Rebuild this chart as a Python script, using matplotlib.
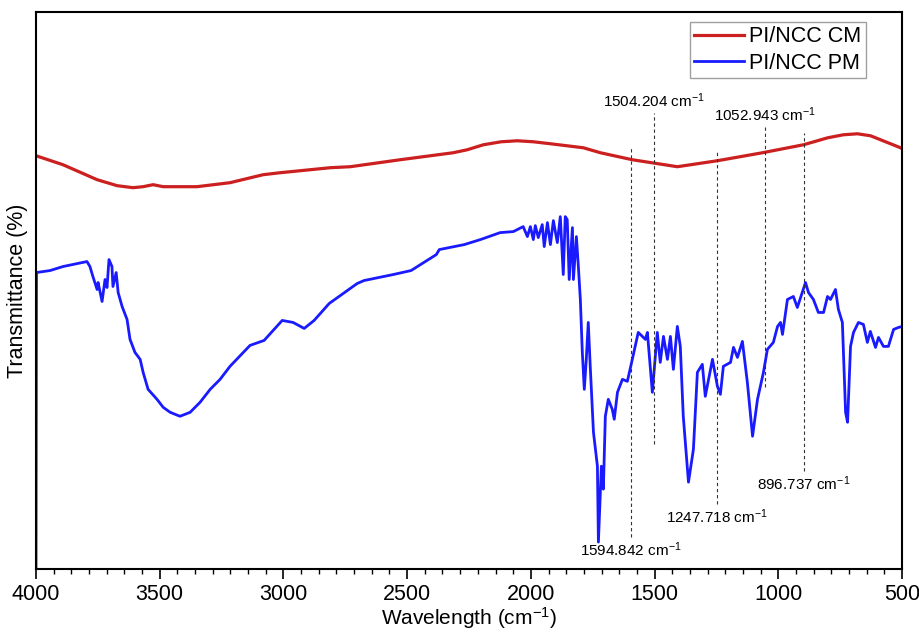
import matplotlib
matplotlib.use("Agg")
import matplotlib.pyplot as plt
from matplotlib.ticker import AutoMinorLocator

plt.rcParams['font.family'] = ['Liberation Sans', 'DejaVu Sans']
plt.rcParams['mathtext.fontset'] = 'custom'
plt.rcParams['mathtext.rm'] = 'Liberation Sans'
plt.rcParams['mathtext.it'] = 'Liberation Sans'

# ---- data (transmittance, arbitrary units) ----
cm_wn = [4000, 3891, 3753, 3672, 3608, 3567, 3527, 3486, 3349, 3216, 3082, 3013,
         2932, 2811, 2730, 2528, 2314, 2257, 2192, 2120, 2055, 1990, 1921, 1788, 1719, 1590,
         1408, 1246, 1064, 898, 800, 737, 680, 627, 506, 500]
cm_T = [41.4, 40.5, 39.0, 38.4, 38.2, 38.3, 38.5, 38.3, 38.3, 38.7, 39.5, 39.7,
        39.9, 40.2, 40.3, 41.0, 41.7, 42.0, 42.5, 42.8, 42.9, 42.8, 42.6, 42.2, 41.7, 41.0,
        40.3, 40.9, 41.7, 42.5, 43.2, 43.5, 43.6, 43.4, 42.2, 42.1]

pm_wn = [4000, 3998, 3943, 3891, 3834, 3794, 3782, 3770, 3753, 3749, 3733, 3721,
         3713, 3705, 3693, 3689, 3676, 3668, 3652, 3632, 3620, 3600, 3579, 3567,
         3547, 3511, 3486, 3458, 3418, 3377, 3337, 3296, 3256, 3216, 3135, 3078,
         3005, 2961, 2916, 2876, 2815, 2702, 2674, 2556, 2484, 2382, 2370, 2269,
         2204, 2124, 2071, 2031, 2014, 2002, 1990, 1982, 1970, 1954, 1946, 1933,
         1921, 1909, 1893, 1881, 1869, 1861, 1853, 1845, 1832, 1828, 1816, 1808,
         1800, 1792, 1784, 1776, 1768, 1760, 1747, 1731, 1727, 1715, 1707, 1699,
         1687, 1671, 1663, 1650, 1630, 1610, 1590, 1566, 1537, 1529, 1509, 1489,
         1477, 1464, 1448, 1436, 1424, 1408, 1396, 1384, 1363, 1343, 1327, 1307,
         1295, 1266, 1246, 1234, 1222, 1193, 1181, 1165, 1145, 1125, 1104, 1084,
         1060, 1044, 1020, 1003, 991, 983, 963, 939, 923, 890, 878, 858,
         838, 817, 801, 789, 769, 757, 741, 728, 720, 708, 696, 676,
         656, 640, 628, 607, 595, 575, 555, 534, 514, 500]
pm_T = [0.0, 29.7, 29.9, 30.3, 30.6, 30.8, 30.3, 29.3, 28.0, 28.7, 26.8, 29.0,
        28.2, 31.0, 30.3, 28.3, 29.7, 27.7, 26.3, 25.0, 23.0, 21.7, 21.0, 19.7,
        18.0, 17.0, 16.2, 15.7, 15.3, 15.7, 16.7, 18.0, 19.0, 20.3, 22.4, 22.9,
        24.9, 24.7, 24.1, 24.9, 26.6, 28.6, 28.9, 29.5, 29.9, 31.5, 32.0, 32.5,
        33.0, 33.7, 33.8, 34.3, 33.3, 34.3, 33.0, 34.4, 33.2, 34.5, 32.3, 34.7,
        32.5, 34.9, 32.7, 35.3, 29.5, 35.3, 35.0, 29.0, 34.2, 29.0, 33.3, 30.3,
        27.0, 21.7, 18.0, 21.0, 24.7, 20.3, 13.7, 10.3, 2.7, 10.3, 8.0, 15.3,
        17.0, 16.0, 15.0, 17.7, 19.0, 18.8, 21.0, 23.7, 23.0, 23.7, 17.7, 23.7,
        20.7, 23.3, 21.0, 23.3, 20.0, 24.3, 22.3, 15.3, 8.7, 12.0, 19.7, 20.5,
        17.3, 21.0, 18.3, 17.5, 20.3, 20.7, 22.2, 21.2, 22.8, 18.7, 13.3, 17.0,
        19.7, 22.0, 22.7, 24.3, 24.7, 23.5, 27.0, 27.3, 26.2, 28.7, 27.7, 27.0,
        25.7, 25.7, 27.3, 27.0, 28.0, 26.0, 24.7, 15.7, 14.7, 22.3, 23.7, 24.7,
        24.5, 22.7, 23.8, 22.2, 23.2, 22.3, 22.3, 24.0, 24.2, 24.3]

# annotations: wavenumber, line top, line bottom, label side
ann_wn = [1594.842, 1504.204, 1247.718, 1052.943, 896.737]
ann_top = [42.2, 45.7, 41.8, 44.3, 43.7]
ann_bot = [3.2, 12.5, 6.5, 18.2, 9.8]
ann_side = ['below', 'above', 'below', 'above', 'below']

x_ticks = [4000, 3500, 3000, 2500, 2000, 1500, 1000, 500]

fig = plt.figure(figsize=(9.2, 6.33), dpi=100)
ax = fig.add_axes([36/920, 64/633, 866/920, 557/633])

ax.plot(cm_wn, cm_T, color='#cc1f1f', lw=2.3, label='PI/NCC CM', solid_joinstyle='round')
ax.plot(pm_wn, pm_T, color='#1a1aff', lw=2.0, label='PI/NCC PM', solid_joinstyle='round')

for w, t, b, s in zip(ann_wn, ann_top, ann_bot, ann_side):
    ax.plot([w, w], [b, t], color='#333333', lw=0.8, linestyle=(0, (3, 2.5)))
    lab = f'{w:.3f} cm$^{{-1}}$'
    if s == 'above':
        ax.text(w, t + 0.3, lab, ha='center', va='bottom', fontsize=11)
    else:
        ax.text(w, b - 0.3, lab, ha='center', va='top', fontsize=11)

ax.set_xlim(4000, 500)
ax.set_ylim(0, 55.8)
ax.set_xticks(x_ticks)
ax.xaxis.set_minor_locator(AutoMinorLocator(7))
ax.set_yticks([])
ax.tick_params(axis='x', which='major', direction='out', length=7, width=1.2,
               labelsize=15.5, pad=4)
ax.tick_params(axis='x', which='minor', direction='out', length=3.5, width=1.0)
for sp in ax.spines.values():
    sp.set_linewidth(1.5)

ax.set_xlabel('Wavelength (cm$^{-1}$)', fontsize=15, labelpad=0)
ax.set_ylabel('Transmittance (%)', fontsize=15.5, labelpad=6)

leg = ax.legend(loc='upper right', bbox_to_anchor=(0.958, 0.982), borderaxespad=0,
                fontsize=15.5, frameon=True, fancybox=False, handlelength=2.3,
                handletextpad=0.25, labelspacing=0.25, borderpad=0.2)
leg.get_frame().set_edgecolor('#888888')
leg.get_frame().set_linewidth(1.0)

fig.savefig('out.png', dpi=100)
